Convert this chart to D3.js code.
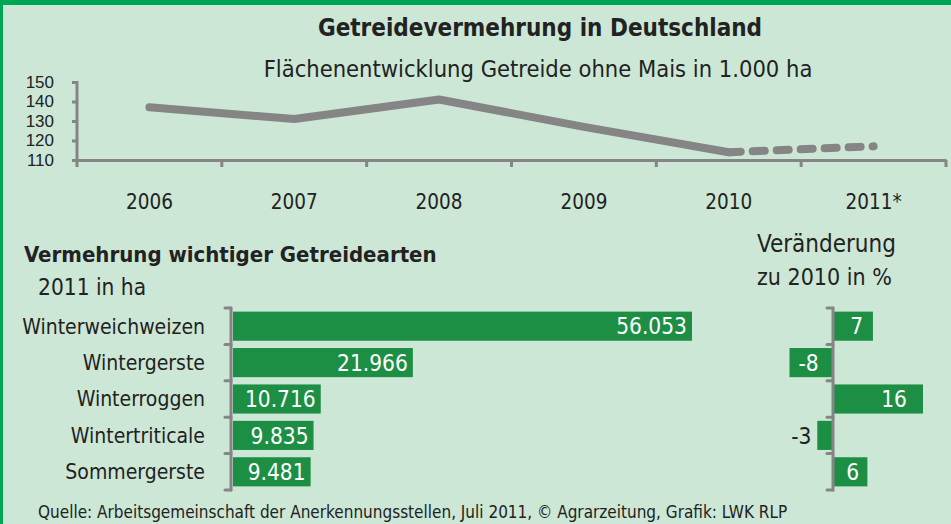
<!DOCTYPE html>
<html>
<head>
<meta charset="utf-8">
<script src="https://cdn.jsdelivr.net/npm/d3@7"></script>
<style>
  html, body { margin: 0; padding: 0; background: #cce7d5; }
  svg { display: block; font-family: "Liberation Sans Narrow", "DejaVu Sans Condensed", "Liberation Sans", sans-serif; }
</style>
</head>
<body>
<svg id="chart" width="951" height="524"></svg>
<script>
// Flächenentwicklung (1.000 ha)
const years = ["2006", "2007", "2008", "2009", "2010", "2011*"];
const area = [137, 131, 141, 127, 114, 117];
const yTicks = [110, 120, 130, 140, 150];

// Vermehrung 2011 in ha + Veränderung in %
const crops = ["Winterweichweizen", "Wintergerste", "Winterroggen", "Wintertriticale", "Sommergerste"];
const hectares = [56053, 21966, 10716, 9835, 9481];
const change = [7, -8, 16, -3, 6];

const W = 951, H = 524;
const svg = d3.select("#chart");
const gray = "#858585";
const green = "#1d8f45";
const fmt = d3.format(",");
const deFmt = v => fmt(v).replace(/,/g, ".");

// Rahmen
svg.append("rect").attr("width", W).attr("height", H).attr("fill", "#cce7d5");
svg.append("rect").attr("width", W).attr("height", 5).attr("fill", "#00a651");
svg.append("rect").attr("width", 3).attr("height", H).attr("fill", "#00a651");

// Titel
svg.append("text").attr("x", 540).attr("y", 36).attr("text-anchor", "middle")
  .attr("font-size", 24).attr("font-weight", "bold").attr("fill", "#222")
  .text("Getreidevermehrung  in Deutschland");
svg.append("text").attr("x", 538).attr("y", 77).attr("text-anchor", "middle")
  .attr("font-size", 23.5).attr("fill", "#222")
  .text("Flächenentwicklung Getreide ohne Mais in 1.000 ha");

// --- Linie oben
const x = d3.scaleBand().domain(years).range([77, 946]);
const y = d3.scaleLinear().domain([110, 150]).range([160, 82]);

const gy = svg.append("g").attr("transform", "translate(77,0)")
  .call(d3.axisLeft(y).tickValues(yTicks).tickSize(5).tickPadding(18));
gy.selectAll("text").attr("font-size", 17).attr("fill", "#222");

const gx = svg.append("g").attr("transform", "translate(0,160)")
  .call(d3.axisBottom(x).tickSize(0).tickFormat(""));
gx.selectAll(".tick").remove();
// Trennstriche zwischen Jahren
gx.selectAll("line.sep").data([...years.map(d => x(d)), x.range()[1]])
  .join("line").attr("class", "sep")
  .attr("x1", d => d).attr("x2", d => d).attr("y1", 0).attr("y2", 7);
[gx, gy].forEach(g => {
  g.selectAll("path, line").attr("stroke", gray).attr("stroke-width", 3);
});
gy.select(".domain").attr("d", "M-5,82.5H0V160");

svg.append("g").selectAll("text").data(years).join("text")
  .attr("x", d => x(d) + x.bandwidth() / 2).attr("y", 209)
  .attr("text-anchor", "middle").attr("font-size", 20.5).attr("fill", "#222")
  .text(d => d);

const pts = years.map((d, i) => ({ year: d, v: area[i] }));
const line = d3.line().x(d => x(d.year) + x.bandwidth() / 2).y(d => y(d.v));
svg.append("path").datum(pts.slice(0, 5)).attr("d", line)
  .attr("fill", "none").attr("stroke", gray).attr("stroke-width", 8)
  .attr("stroke-linecap", "round").attr("stroke-linejoin", "round");
svg.append("path").datum(pts.slice(4)).attr("d", line)
  .attr("fill", "none").attr("stroke", gray).attr("stroke-width", 8)
  .attr("stroke-linecap", "round").attr("stroke-dasharray", "12 12");

// --- Balken unten
svg.append("text").attr("x", 24).attr("y", 262).attr("font-size", 22)
  .attr("font-weight", "bold").attr("fill", "#222").text("Vermehrung wichtiger Getreidearten");
svg.append("text").attr("x", 38).attr("y", 295).attr("font-size", 22.5)
  .attr("fill", "#222").text("2011 in ha");
svg.append("text").attr("x", 757).attr("y", 252).attr("font-size", 24)
  .attr("fill", "#222").text("Veränderung");
svg.append("text").attr("x", 757).attr("y", 285).attr("font-size", 23)
  .attr("fill", "#222").text("zu 2010 in %");

const band = d3.scaleBand().domain(crops).range([308, 490]).paddingInner(0.2).paddingOuter(0.1);
const hx = d3.scaleLinear().domain([0, 56053]).range([233, 692]);
const cx = d3.scaleLinear().domain([0, 16]).range([834, 923]);

function catAxis(x0) {
  const g = svg.append("g");
  g.append("line").attr("x1", x0).attr("x2", x0).attr("y1", 308).attr("y2", 490);
  g.selectAll("line.t").data(d3.range(crops.length + 1)).join("line").attr("class", "t")
    .attr("x1", x0 - 6).attr("x2", x0)
    .attr("y1", i => 308 + i * (182 / crops.length)).attr("y2", i => 308 + i * (182 / crops.length));
  g.selectAll("line").attr("stroke", gray).attr("stroke-width", 3).attr("stroke-linecap", "round");
}

const rows = crops.map((c, i) => ({ c, ha: hectares[i], ch: change[i] }));

svg.append("g").selectAll("rect").data(rows).join("rect")
  .attr("x", hx(0)).attr("y", d => band(d.c))
  .attr("width", d => hx(d.ha) - hx(0)).attr("height", band.bandwidth())
  .attr("fill", green);
catAxis(231);

svg.append("g").selectAll("text").data(rows).join("text")
  .attr("x", 205).attr("y", d => band(d.c) + band.bandwidth() / 2).attr("dy", "0.35em")
  .attr("text-anchor", "end").attr("font-size", 21).attr("fill", "#222").text(d => d.c);

svg.append("g").selectAll("text").data(rows).join("text")
  .attr("y", d => band(d.c) + band.bandwidth() / 2).attr("dy", "0.36em")
  .attr("font-size", 22.5).attr("fill", "#fff").attr("text-anchor", "end")
  .text(d => deFmt(d.ha))
  .attr("x", function (d) {
    const w = this.getComputedTextLength();
    return Math.max(hx(0) + 8 + w, hx(d.ha) - 5);
  });

svg.append("g").selectAll("rect").data(rows).join("rect")
  .attr("x", d => Math.min(cx(0), cx(d.ch))).attr("y", d => band(d.c))
  .attr("width", d => Math.abs(cx(d.ch) - cx(0))).attr("height", band.bandwidth())
  .attr("fill", green);
catAxis(833);

svg.append("g").selectAll("text").data(rows).join("text")
  .attr("y", d => band(d.c) + band.bandwidth() / 2).attr("dy", "0.36em")
  .attr("font-size", 22.5).text(d => d.ch)
  .each(function (d) {
    const t = d3.select(this);
    const w = this.getComputedTextLength();
    const bw = Math.abs(cx(d.ch) - cx(0));
    if (bw < w + 8) {
      t.attr("x", cx(d.ch) - 6).attr("text-anchor", "end").attr("fill", "#222");
    } else if (d.ch < 0) {
      t.attr("x", cx(d.ch) + 9).attr("text-anchor", "start").attr("fill", "#fff");
    } else {
      t.attr("x", cx(d.ch) - Math.min(16, bw / 4)).attr("text-anchor", "end").attr("fill", "#fff");
    }
  });

// Quelle
svg.append("text").attr("x", 38).attr("y", 518).attr("font-size", 17).attr("fill", "#222")
  .text("Quelle: Arbeitsgemeinschaft der Anerkennungsstellen, Juli 2011, © Agrarzeitung, Grafik: LWK RLP");
</script>
</body>
</html>
